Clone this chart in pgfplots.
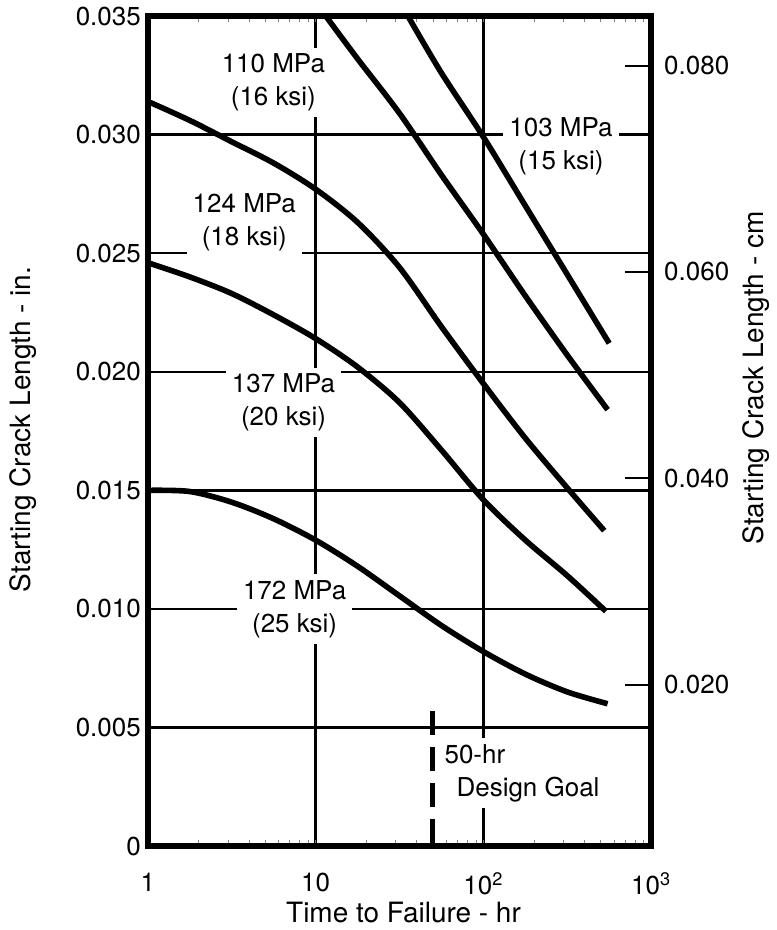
\documentclass[border=0pt]{standalone}
\usepackage{fontspec}
\setmainfont{TeX Gyre Heros}
\usepackage{pgfplots}
\pgfplotsset{compat=1.18}
\tikzset{lab/.style={fill=white, inner sep=3pt, align=center, font=\fontsize{13}{16.5}\selectfont}}
\begin{document}
\begin{tikzpicture}
\begin{axis}[name=main,
  scale only axis, width=252pt, height=415.5pt,
  xmode=log, xmin=1, xmax=1000, ymin=0, ymax=0.035,
  xtick={1,10,100,1000},
  xticklabels={1,10,10\textsuperscript{2},10\textsuperscript{3}},
  ytick={0,0.005,0.010,0.015,0.020,0.025,0.030,0.035},
  yticklabels={0,0.005,0.010,0.015,0.020,0.025,0.030,0.035},
  scaled y ticks=false,
  /pgf/number format/assume math mode=true,
  major tick length=0pt,
  grid=major, grid style={line width=1.2pt, black},
  axis line style={line width=3pt},
  tick label style={font=\fontsize{13}{15}\selectfont},
  xticklabel style={yshift=-10pt},
  xlabel={Time to Failure - hr},
  ylabel={Starting Crack Length - in.},
  label style={font=\fontsize{14}{16}\selectfont},
  xlabel style={at={(rel axis cs:0.508,-0.0806)}, anchor=center},
  ylabel style={at={(rel axis cs:-0.248,0.502)}, anchor=center},
]
\node[lab] at (axis cs:5.6,0.0322) {110 MPa\\(16 ksi)};
\node[lab] at (axis cs:3.76,0.0263) {124 MPa\\(18 ksi)};
\node[lab] at (axis cs:6.44,0.0187) {137 MPa\\(20 ksi)};
\node[lab] at (axis cs:7.5,0.0100) {172 MPa\\(25 ksi)};
\node[lab] at (axis cs:290,0.02952) {103 MPa\\(15 ksi)};
\node[lab, align=left, anchor=north west] at (axis cs:53.8,0.00456) {50-hr\\\hspace*{6pt}Design Goal};
% 172 MPa
\addplot[line width=2.8pt, smooth] coordinates {
(1,0.0150) (1.778,0.01495) (3.162,0.0145) (5.623,0.0138) (10,0.0129) (17.78,0.0118) (31.62,0.01055) (56.23,0.0093) (100,0.0082) (177.8,0.00725) (316.2,0.0065) (550,0.0060)};
% 137 MPa
\addplot[line width=2.8pt, smooth] coordinates {
(1,0.0246) (1.778,0.0240) (3.162,0.0233) (5.623,0.0224) (10,0.0214) (17.78,0.0202) (31.62,0.0187) (56.23,0.0167) (100,0.0146) (177.8,0.0129) (316.2,0.0114) (537,0.0099)};
% 124 MPa
\addplot[line width=2.8pt, smooth] coordinates {
(1,0.0314) (1.778,0.0306) (3.162,0.0297) (5.623,0.0288) (10,0.0277) (17.78,0.0263) (31.62,0.0244) (56.23,0.0219) (100,0.0195) (177.8,0.0172) (316.2,0.0151) (525,0.0133)};
% 110 MPa
\addplot[line width=2.8pt, smooth] coordinates {
(11.5,0.0350) (17.78,0.0332) (31.62,0.0309) (56.23,0.0283) (100,0.0258) (177.8,0.0232) (316.2,0.0207) (550,0.0184)};
% 103 MPa
\addplot[line width=2.8pt, smooth] coordinates {
(35.5,0.0350) (56.23,0.0326) (100,0.0299) (177.8,0.0270) (316.2,0.0241) (562,0.0212)};
% 50-hr design goal
\addplot[line width=2.5pt, dash pattern=on 12pt off 6pt] coordinates {(50,0.0057) (50,0)};
\end{axis}
\begin{axis}[
  scale only axis, width=252pt, height=415.5pt,
  xmode=log, xmin=1, xmax=1000, ymin=0.00434, ymax=0.08481,
  xtick=\empty,
  ytick pos=right, yticklabel pos=right,
  ytick={0.02,0.04,0.06,0.08},
  yticklabels={0.020,0.040,0.060,0.080},
  scaled y ticks=false,
  ytick align=outside, major tick length=13pt,
  ytick style={line width=1pt, black, xshift=-13pt},
  axis line style={line width=3pt},
  tick label style={font=\fontsize{13}{15}\selectfont},
  yticklabel style={xshift=-10pt},
  ylabel={Starting Crack Length - cm},
  label style={font=\fontsize{14}{16}\selectfont},
  ylabel style={at={(rel axis cs:1.208,0.564)}, anchor=center, rotate=0},
]
\addplot[draw=none] coordinates {(1,0.01)};
\end{axis}
\path (main.south west) ++(-74pt,-41.5pt) coordinate (bbA);
\path (main.north east) ++(60.5pt,8pt) coordinate (bbB);
\path (bbA) rectangle (bbB);
\end{tikzpicture}
\end{document}
